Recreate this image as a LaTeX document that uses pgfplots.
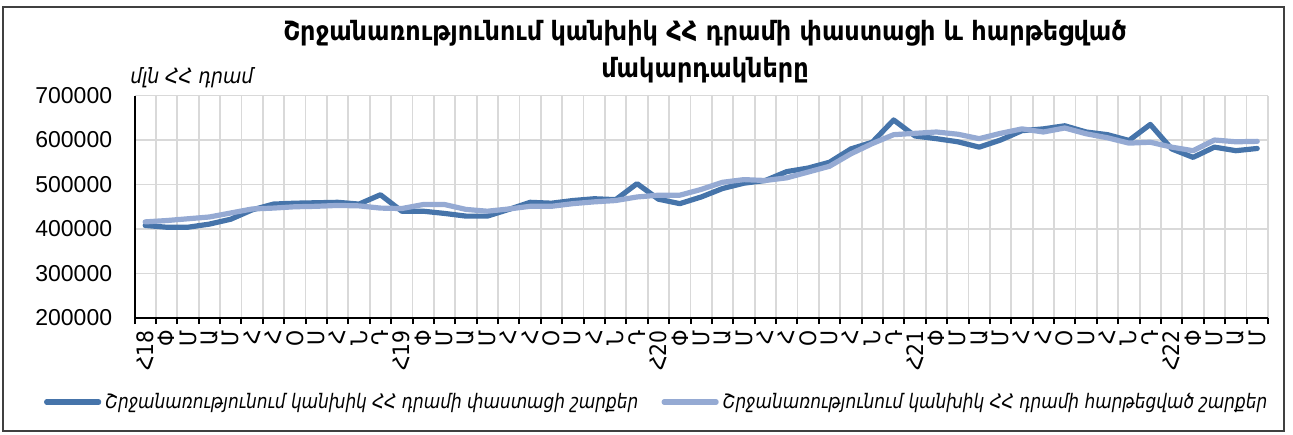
\documentclass[border=0pt]{standalone}
\usepackage{fontspec}
\setmainfont{Liberation Sans}
\newfontfamily\armfont{DejaVu Sans Condensed}
\newfontfamily\legfont[FakeStretch=0.94]{DejaVu Sans Condensed}
\usepackage{pgfplots}
\usepackage{pgfplotstable}
\pgfplotsset{compat=1.18}
\definecolor{actc}{RGB}{70,116,170}
\definecolor{smoc}{RGB}{149,170,211}
\definecolor{gridc}{RGB}{217,217,217}
\pgfplotstableread{
x act smo
0.5 408000 416000
1.5 404000 419000
2.5 404000 423000
3.5 411000 427000
4.5 422000 436000
5.5 443000 445000
6.5 456000 447000
7.5 458000 450000
8.5 459000 451000
9.5 460000 453000
10.5 456000 452000
11.5 477000 447000
12.5 440000 446000
13.5 440000 455000
14.5 435000 455000
15.5 429000 444000
16.5 429000 440000
17.5 444000 445000
18.5 460000 451000
19.5 458000 451000
20.5 464000 457000
21.5 468000 461000
22.5 466000 464000
23.5 502000 472000
24.5 467000 476000
25.5 457000 476000
26.5 472000 489000
27.5 491000 505000
28.5 503000 511000
29.5 509000 509000
30.5 529000 515000
31.5 537000 528000
32.5 550000 541000
33.5 580000 569000
34.5 595000 592000
35.5 645000 612000
36.5 609000 615000
37.5 603000 618000
38.5 596000 613000
39.5 584000 603000
40.5 600000 615000
41.5 621000 625000
42.5 625000 618000
43.5 632000 627000
44.5 618000 614000
45.5 612000 605000
46.5 599000 593000
47.5 635000 595000
48.5 580000 584000
49.5 561000 576000
50.5 584000 600000
51.5 576000 596000
52.5 581000 597000
}\datatable
\begin{document}
\begin{tikzpicture}
\path (0,0) rectangle (646.5pt,217pt);
\draw[black!75, line width=1pt] (1.5pt,1.5pt) rectangle (642pt,213.5pt);
\node[font=\armfont\bfseries\fontsize{13.3}{18.5}\selectfont, align=center] at (352.5pt,191pt)
  {Շրջանառությունում կանխիկ ՀՀ դրամի փաստացի և հարթեցված\\մակարդակները};
\node[anchor=west, inner sep=0pt, font=\armfont\itshape\fontsize{10.5}{12}\selectfont] at (65pt,178pt) {մլն ՀՀ դրամ};
\begin{axis}[
  at={(67.25pt,58pt)}, anchor=south west,
  scale only axis, width=566.7pt, height=111.25pt,
  xmin=0, xmax=53, ymin=200000, ymax=700000,
  scaled y ticks=false,
  axis lines=left, axis line style={-, black, line width=1pt},
  xtick={0,...,53},
  x tick label as interval,
  xticklabels={Հ18,Փ,Մ,Ա,Մ,Հ,Հ,Օ,Ս,Հ,Ն,Դ,Հ19,Փ,Մ,Ա,Մ,Հ,Հ,Օ,Ս,Հ,Ն,Դ,Հ20,Փ,Մ,Ա,Մ,Հ,Հ,Օ,Ս,Հ,Ն,Դ,Հ21,Փ,Մ,Ա,Մ,Հ,Հ,Օ,Ս,Հ,Ն,Դ,Հ22,Փ,Մ,Ա,Մ},
  xticklabel style={font=\armfont\fontsize{11.3}{13}\selectfont, rotate=90, anchor=east, inner sep=0pt, xshift=-3pt},
  tick align=outside,
  major tick length=3pt,
  xtick style={black, line width=1pt},
  ytick={200000,300000,400000,500000,600000,700000},
  yticklabels={200000,300000,400000,500000,600000,700000},
  yticklabel style={font=\fontsize{11.5}{13}\selectfont, anchor=east, inner sep=0pt, xshift=-8pt},
  ytick style={draw=none},
  xmajorgrids, ymajorgrids,
  major grid style={gridc, line width=0.9pt},
  clip=false,
  legend columns=2,
  legend style={at={(axis description cs:-0.0798,-0.3775)}, anchor=west, draw=none, fill=none,
    inner sep=0pt, outer sep=0pt,
    font=\legfont\itshape\fontsize{10}{12}\selectfont,
    /tikz/every even column/.append style={column sep=9.5pt}},
  legend image code/.code={\draw[#1, line width=2.6pt, line cap=round] (0pt,0pt) -- (26pt,0pt);},
]
\addplot[actc, line width=2.6pt, line join=round, line cap=round] table[x=x, y=act] {\datatable};
\addlegendentry{Շրջանառությունում կանխիկ ՀՀ դրամի փաստացի շարքեր}
\addplot[smoc, line width=2.6pt, line join=round, line cap=round] table[x=x, y=smo] {\datatable};
\addlegendentry{Շրջանառությունում կանխիկ ՀՀ դրամի հարթեցված շարքեր}
\end{axis}
\end{tikzpicture}
\end{document}
